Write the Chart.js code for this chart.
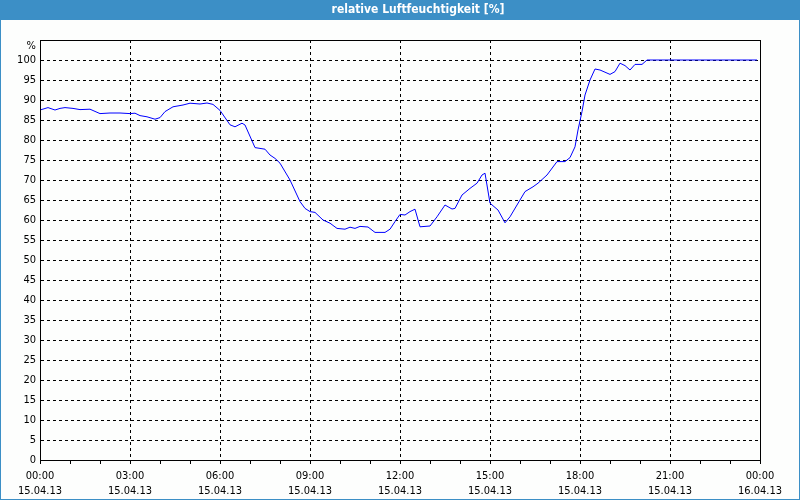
<!DOCTYPE html>
<html>
<head>
<meta charset="utf-8">
<script src="https://cdn.jsdelivr.net/npm/chart.js@4/dist/chart.umd.min.js"></script>
<style>
html,body{margin:0;padding:0;background:#fdfefd;}
#wrap{position:relative;width:800px;height:500px;}
canvas{display:block;}
</style>
</head>
<body>
<div id="wrap"><canvas id="c" width="800" height="500"></canvas></div>
<script>
const TITLE = 'relative Luftfeuchtigkeit [%]';
const times = ['00:00','00:16','00:30','00:40','00:50','01:06','01:20','01:40','02:00','02:20','02:40','03:00','03:10','03:20','03:34','03:50','04:00','04:10','04:26','04:46','05:00','05:20','05:34','05:46','06:00','06:20','06:30','06:44','06:50','07:10','07:30','07:40','07:50','08:00','08:20','08:40','08:50','09:00','09:10','09:26','09:40','09:54','10:10','10:20','10:30','10:40','10:56','11:10','11:30','11:40','11:50','12:00','12:10','12:20','12:30','12:40','13:00','13:14','13:30','13:44','13:50','14:04','14:20','14:34','14:44','14:50','15:00','15:16','15:30','15:40','15:54','16:10','16:26','16:36','16:54','17:14','17:30','17:40','17:50','17:56','18:04','18:10','18:20','18:30','18:40','19:00','19:10','19:20','19:30','19:40','19:50','20:04','20:14','23:54'];
const humidity = [87.5,88.1,87.5,87.9,88.1,87.9,87.6,87.7,86.6,86.75,86.75,86.6,86.7,86.1,85.8,85.2,85.6,87.1,88.3,88.75,89.2,89.0,89.25,88.9,87.4,83.8,83.3,84.2,83.75,78.1,77.7,76.25,75.4,74.2,70.0,64.6,62.9,62.1,61.9,60.0,59.2,57.9,57.7,58.2,57.9,58.4,58.25,56.9,56.9,57.7,59.6,61.4,61.25,62.1,62.7,58.3,58.5,60.8,63.75,62.75,62.9,66.25,67.9,69.2,71.25,71.7,64.2,62.5,59.3,60.8,63.75,67.1,68.3,69.2,71.25,74.6,74.6,75.6,78.3,82.5,87.1,91.25,95,97.75,97.5,96.4,97.1,99.2,98.6,97.5,98.9,98.9,100,100];
const xTickLabels = {0:['00:00','15.04.13'],3:['03:00','15.04.13'],6:['06:00','15.04.13'],9:['09:00','15.04.13'],12:['12:00','15.04.13'],15:['15:00','15.04.13'],18:['18:00','15.04.13'],21:['21:00','15.04.13'],24:['00:00','16.04.13']};
const yTopLabel = '%';

function toHours(t){const p=t.split(':');return (+p[0])+(+p[1])/60;}
const points = times.map((t,i)=>({x:toHours(t),y:humidity[i]}));
const FONT = '"DejaVu Sans Condensed", "DejaVu Sans", sans-serif';

const frame = {
  id:'frame',
  beforeDraw(chart){
    const ctx=chart.ctx;
    ctx.save();
    ctx.fillStyle='#fdfefd';
    ctx.fillRect(0,0,800,500);
    ctx.fillStyle='#3c8fc6';
    ctx.fillRect(0,0,800,20);
    ctx.strokeStyle='#3c8fc6';
    ctx.lineWidth=1;
    ctx.strokeRect(0.5,0.5,799,499);
    ctx.fillStyle='#ffffff';
    ctx.font='bold 12px '+FONT;
    ctx.textAlign='center';
    ctx.textBaseline='middle';
    ctx.fillText(TITLE,418,10);
    ctx.restore();
  },
  afterDraw(chart){
    const a=chart.chartArea, ctx=chart.ctx;
    ctx.save();
    ctx.strokeStyle='#000';
    ctx.lineWidth=1;
    ctx.setLineDash([]);
    ctx.strokeRect(Math.round(a.left)+0.5,Math.round(a.top)+0.5,Math.round(a.right-a.left),Math.round(a.bottom-a.top));
    ctx.restore();
  }
};

new Chart(document.getElementById('c'),{
  type:'line',
  data:{datasets:[{data:points,borderColor:'#0000ff',borderWidth:1,pointRadius:0,tension:0,fill:false}]},
  options:{
    responsive:false,animation:false,
    layout:{padding:{left:0,top:40,right:40,bottom:0}},
    plugins:{legend:{display:false},tooltip:{enabled:false},title:{display:false}},
    scales:{
      x:{type:'linear',min:0,max:24,
        afterFit(s){s.height=40;},
        ticks:{stepSize:1,autoSkip:false,maxRotation:0,color:'#000',padding:5,
          font:{family:FONT,size:11,lineHeight:1.35},
          callback(v){return xTickLabels[v]||'';}},
        grid:{color(c){const v=c.tick&&c.tick.value;return (v%3===0&&v>0&&v<24)?'#000':'rgba(0,0,0,0)';},
          tickColor:'#000',tickLength:4,tickBorderDash:[],drawTicks:true},
        border:{display:true,color:'#000',dash:[3,3]}},
      y:{min:0,max:105,
        afterFit(s){s.width=40;},
        ticks:{stepSize:5,autoSkip:false,color:'#000',padding:4,font:{family:FONT,size:11,lineHeight:1.2},
          callback(v){return v===105?['',yTopLabel]:String(v);}},
        grid:{color(c){const v=c.tick&&c.tick.value;return (v>0&&v<105)?'#000':'rgba(0,0,0,0)';},drawTicks:false},
        border:{display:true,color:'#000',dash:[3,3]}}
    }
  },
  plugins:[frame]
});
</script>
</body>
</html>
